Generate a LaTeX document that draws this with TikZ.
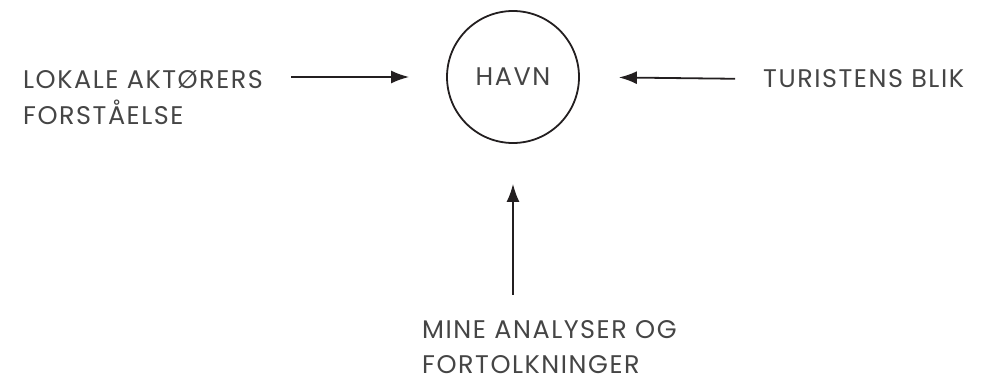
\documentclass[tikz,border=0pt]{standalone}
\usepackage{fontspec}
\setmainfont{Poppins}[LetterSpace=6]
\usetikzlibrary{positioning, arrows.meta}
\definecolor{textgray}{HTML}{454545}
\definecolor{linedark}{HTML}{231F20}
\tikzset{
x=1pt, y=1pt, % one unit is one pixel of the reference
every node/.style={text=textgray, font=\fontsize{25.5}{35}\selectfont}, % sets the text of every node
focus/.style={circle, draw=linedark, line width=1.8pt, minimum size=132pt, inner sep=0pt}, % the circle in the middle
label text/.style={align=left, inner sep=0pt}, % the texts round the circle
flow/.style={draw=linedark, line width=1.8pt, -{Latex[length=18pt, width=13pt]}}, % the arrows into the circle
}
\begin{document}
\begin{tikzpicture}
      \useasboundingbox (0,0) rectangle (988,381);
      \node[focus] (havn) at (513,304) {HAVN};
      % base is the baseline of the last line
      \node[label text, anchor=base west] (lokal) at (23,257) {LOKALE AKTØRERS\\FORSTÅELSE};
      \node[label text, anchor=base west] (turist) at (763,293) {TURISTENS BLIK};
      \node[label text, anchor=base west] (mine) at (422,8) {MINE ANALYSER OG\\FORTOLKNINGER};

      \draw[flow, shorten <=28pt, shorten >=37pt] (lokal.east |- havn.west) -- (havn.west);
      \draw[flow, shorten <=28pt, shorten >=39pt] (turist.west) -- (havn.east);
      \draw[flow, shorten <=25pt, shorten >=40pt] (havn.south |- mine.north) -- (havn.south);
    \end{tikzpicture}
\end{document}
